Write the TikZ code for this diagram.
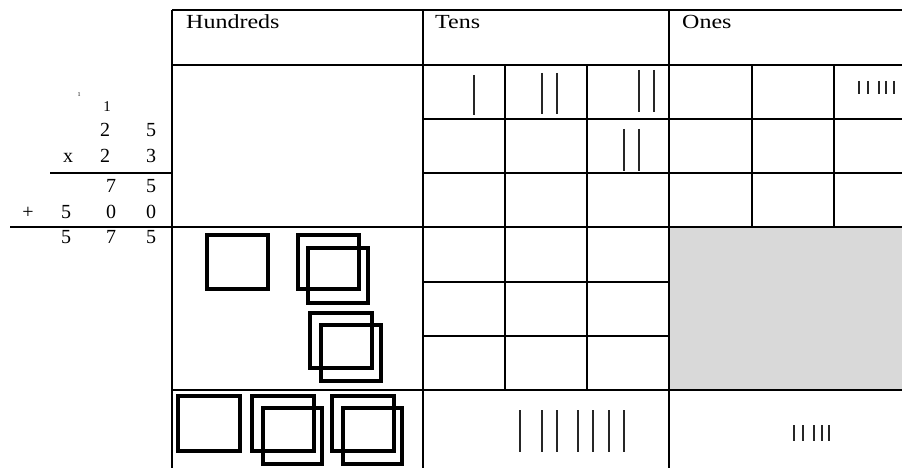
\documentclass[tikz,border=0pt]{standalone}
\usepackage{fontspec}
\setmainfont{Liberation Serif}
\newfontfamily\headfont[FakeStretch=1.2]{Liberation Serif}
\usepackage{xcolor}
\usepackage{tikz}
\usetikzlibrary{calc}

\definecolor{cellgray}{RGB}{217,217,217}

\begin{document}
\begin{tikzpicture}[
    x=1pt, y=-1pt,
    grid/.style={line width=1.4pt, black},
    block/.style={line width=3.6pt, black},
    tally/.style={line width=1.8pt, black!85},
    tick/.style={line width=1.8pt, black!85},
    head/.style={anchor=base west, inner sep=0pt, font=\headfont\fontsize{20}{22}\selectfont},
    digit/.style={anchor=base, inner sep=0pt, font=\fontsize{20}{22}\selectfont},
    carry/.style={anchor=base, inner sep=0pt, font=\fontsize{15}{16}\selectfont}
]
\useasboundingbox (0,0) rectangle (902,468);

% Shaded ones cell
\fill[cellgray] (669,227) rectangle (902,390);

% Table frame
\draw[grid] (172,10) -- (902,10);
\draw[grid] (172,65) -- (902,65);
\draw[grid] (10,227) -- (902,227);
\draw[grid] (172,390) -- (902,390);
\foreach \x in {172,423,669}
    \draw[grid] (\x,10) -- (\x,468);

% Inner cells
\foreach \y in {119,173}
    \draw[grid] (423,\y) -- (902,\y);
\foreach \y in {282,336}
    \draw[grid] (423,\y) -- (669,\y);
\foreach \x in {505,587}
    \draw[grid] (\x,65) -- (\x,390);
\foreach \x in {752,834}
    \draw[grid] (\x,65) -- (\x,227);

% Headers
\node[head] (hundreds) at (186,29) {Hundreds};
\node[head] (tens) at (435,29) {Tens};
\node[head] (ones) at (682,29) {Ones};

% Working on the left
\node[carry, font=\fontsize{6}{7}\selectfont] (c2) at (79,97) {1};
\node[carry] (c1) at (107,112) {1};
\node[digit] (a1) at (105,136) {2};
\node[digit] (a0) at (151,136) {5};
\node[digit] (times) at (68,163) {x};
\node[digit] (b1) at (105,163) {2};
\node[digit] (b0) at (151,163) {3};
\draw[grid] (50,173) -- (172,173);
\node[digit] (p1) at (111,192) {7};
\node[digit] (p0) at (151,192) {5};
\node[digit] (plus) at (28,218) {+};
\node[digit] (q2) at (66,218) {5};
\node[digit] (q1) at (111,218) {0};
\node[digit] (q0) at (151,218) {0};
\node[digit] (r2) at (66,243) {5};
\node[digit] (r1) at (111,243) {7};
\node[digit] (r0) at (151,243) {5};

% Hundred blocks
\draw[block] (207,235) rectangle (268,289);
\draw[block] (298,235) rectangle (359,289);
\draw[block] (308,248) rectangle (368,303);
\draw[block] (310,313) rectangle (372,368);
\draw[block] (321,325) rectangle (381,381);
\draw[block] (178,396) rectangle (240,451);
\draw[block] (252,396) rectangle (314,451);
\draw[block] (263,408) rectangle (322,464);
\draw[block] (332,396) rectangle (394,451);
\draw[block] (343,408) rectangle (402,464);

% Tens tallies
\draw[tally] (474,75) -- (474,115);
\foreach \x in {542,557}
    \draw[tally] (\x,73) -- (\x,114);
\foreach \x in {639,654}
    \draw[tally] (\x,70) -- (\x,112);
\foreach \x in {624,639}
    \draw[tally] (\x,129) -- (\x,171);
\foreach \x in {520,542,557,578,593,609,624}
    \draw[tally] (\x,410) -- (\x,452);

% Ones tallies
\foreach \x in {859,868,879,886,894}
    \draw[tick] (\x,81) -- (\x,94);
\foreach \x in {794,803,814,822,829}
    \draw[tick] (\x,425) -- (\x,441);

\end{tikzpicture}
\end{document}
